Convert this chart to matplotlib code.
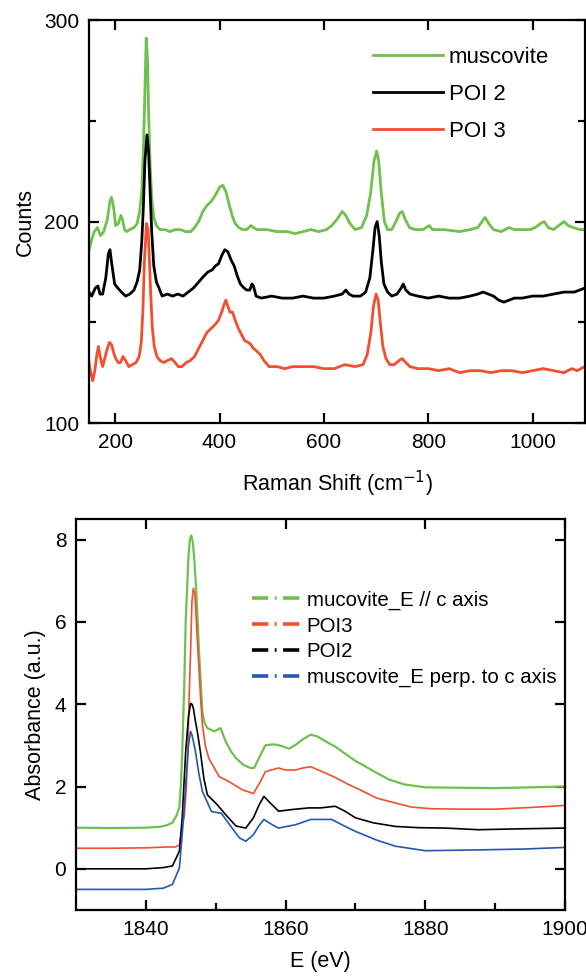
import matplotlib
matplotlib.use("Agg")
import matplotlib.pyplot as plt
from matplotlib.lines import Line2D

plt.rcParams['font.family'] = ['Liberation Sans', 'DejaVu Sans']

GREEN = '#70c04e'
RED = '#f24f2e'
BLUE = '#2257b2'

# ---- Raman spectra (top panel) ----
raman_x_musc = [150, 155, 160, 166, 172, 178, 185, 190, 193, 197, 201, 206, 211, 214, 218, 222, 228, 236, 242, 247,
                251, 254, 257, 259.5, 262, 264, 267, 270, 274, 279, 286, 295, 305, 315, 325, 335, 345, 352, 360, 368,
                376, 384, 392, 400, 406, 412, 418, 424, 430, 437, 444, 452, 460, 465, 472, 490, 510, 530, 545, 560,
                575, 590, 605, 615, 625, 635, 642, 650, 660, 672, 682, 690, 696, 701, 705, 710, 716, 722, 730, 738,
                745, 750, 756, 764, 775, 790, 802, 808, 830, 860, 880, 895, 903, 909, 916, 925, 940, 955, 965, 980,
                995, 1005, 1015, 1022, 1030, 1040, 1050, 1060, 1068, 1078, 1090, 1100]
raman_y_musc = [186, 191, 195, 197, 193, 195, 201, 210, 212, 207, 198, 199, 203, 201, 196, 195, 196, 197, 199, 205,
                215, 235, 265, 291, 280, 255, 228, 212, 202, 198, 196, 196, 195, 196, 196, 195, 195, 197, 200, 205,
                208, 210, 213, 217, 218, 215, 209, 203, 199, 197, 196, 196, 198, 197, 196, 196, 195, 195, 194, 195,
                196, 195, 196, 198, 201, 205, 203, 199, 196, 197, 203, 215, 230, 235, 230, 214, 200, 196, 196, 200,
                204, 205, 201, 197, 196, 196, 198, 196, 196, 195, 196, 197, 200, 202, 199, 196, 195, 197, 196, 196,
                196, 197, 199, 200, 197, 196, 198, 200, 198, 197, 196, 196]

raman_x_poi2 = [150, 155, 162, 167, 171, 176, 182, 187, 190, 194, 199, 205, 212, 220, 228, 236, 242, 247, 251, 254,
                257, 261, 264, 267, 270, 274, 279, 284, 290, 300, 310, 320, 330, 340, 350, 360, 370, 378, 386, 392,
                398, 404, 410, 416, 422, 428, 434, 440, 447, 452, 458, 462, 465, 470, 480, 500, 520, 540, 560, 580,
                600, 620, 635, 642, 648, 656, 670, 680, 688, 694, 698, 702, 706, 710, 715, 722, 730, 740, 748, 752,
                757, 765, 780, 800, 820, 840, 860, 880, 895, 905, 915, 925, 935, 945, 955, 965, 980, 1000, 1020, 1040,
                1060, 1080, 1100]
raman_y_poi2 = [165, 163, 167, 168, 164, 164, 172, 184, 186, 178, 169, 167, 165, 163, 164, 166, 170, 176, 190, 207,
                230, 243, 235, 215, 195, 178, 170, 167, 163, 164, 163, 164, 163, 165, 167, 170, 173, 175, 176, 178,
                179, 183, 186, 185, 181, 178, 173, 169, 167, 166, 166, 169, 168, 163, 162, 163, 162, 162, 163, 162,
                162, 163, 164, 166, 164, 163, 163, 165, 172, 186, 197, 200, 193, 180, 169, 165, 163, 164, 167, 169,
                166, 164, 163, 162, 163, 162, 162, 163, 164, 165, 164, 163, 161, 160, 161, 162, 162, 163, 163, 164,
                165, 165, 167]

raman_x_poi3 = [150, 153, 157, 161, 165, 168, 172, 176, 180, 184, 189, 193, 197, 201, 206, 210, 215, 220, 226, 233,
                240, 246, 250, 253, 256, 260, 263, 265, 268, 271, 275, 280, 286, 293, 300, 308, 315, 321, 328, 336,
                344, 352, 360, 368, 376, 384, 392, 398, 404, 409, 412, 416, 420, 425, 430, 436, 442, 448, 455, 460,
                465, 470, 478, 485, 495, 510, 525, 540, 560, 580, 600, 620, 640, 660, 675, 683, 690, 695, 700, 704,
                708, 713, 719, 726, 735, 744, 750, 757, 765, 780, 800, 820, 840, 860, 880, 900, 920, 940, 960, 980,
                1000, 1020, 1040, 1060, 1075, 1085, 1100]
raman_y_poi3 = [130, 125, 121, 126, 134, 138, 132, 128, 132, 136, 140, 139, 135, 132, 130, 130, 133, 131, 128, 129,
                130, 133, 140, 155, 180, 199, 196, 185, 165, 148, 138, 133, 131, 130, 131, 132, 130, 128, 128, 130,
                131, 133, 137, 141, 145, 147, 149, 151, 155, 159, 161, 158, 155, 155, 151, 147, 144, 141, 140, 139,
                137, 136, 134, 131, 128, 128, 127, 128, 128, 128, 127, 127, 129, 128, 129, 134, 145, 158, 164, 161,
                150, 138, 132, 129, 129, 131, 132, 130, 128, 127, 127, 126, 127, 125, 126, 126, 125, 126, 126, 125,
                126, 127, 126, 125, 127, 126, 128]

# ---- XANES spectra (bottom panel) ----
xas_x_musc_par = [1830, 1835, 1840, 1842, 1843, 1843.8, 1844.4, 1844.8, 1845.0, 1845.2, 1845.5, 1845.7, 1846.1,
                  1846.3, 1846.5, 1846.7, 1846.9, 1847.2, 1847.4, 1847.6, 1847.9, 1848.1, 1848.4, 1848.8, 1849.8,
                  1850.7, 1851.4, 1852.2, 1852.9, 1854, 1855, 1855.5, 1856.2, 1857.1, 1858, 1858.6, 1859.5, 1860.5,
                  1861.5, 1862.4, 1863.6, 1864.5, 1866.2, 1867.1, 1868.5, 1870, 1871, 1872.5, 1874.8, 1877, 1880,
                  1885, 1890, 1895, 1900]
xas_y_musc_par = [1.0, 0.99, 1.0, 1.02, 1.06, 1.12, 1.3, 1.5, 2.0, 2.8, 4.5, 6.0, 7.6,
                  8.0, 8.1, 7.95, 7.6, 6.8, 6.1, 5.3, 4.4, 3.8, 3.55, 3.42, 3.34,
                  3.42, 3.1, 2.85, 2.69, 2.52, 2.45, 2.45, 2.69, 3.0, 3.02, 3.02, 2.98, 2.92,
                  3.02, 3.14, 3.26, 3.22, 3.05, 2.97, 2.8, 2.62, 2.53, 2.38, 2.17, 2.05, 1.98,
                  1.97, 1.96, 1.98, 2.0]

xas_x_poi3 = [1830, 1835, 1840, 1843, 1844.2, 1844.8, 1845.5, 1845.8, 1846, 1846.2, 1846.4, 1846.6, 1846.8, 1847.0,
              1847.1, 1847.35, 1847.6, 1847.85, 1848.1, 1848.5, 1849, 1850.5, 1851.9, 1853.8, 1855.4, 1856.4,
              1857.1, 1859, 1860, 1861.4, 1862.5, 1863.6, 1865, 1867.1, 1869, 1870.9, 1873, 1875.7, 1878,
              1880.9, 1885, 1890, 1895, 1900]
xas_y_poi3 = [0.5, 0.5, 0.51, 0.53, 0.53, 0.58, 1.29, 2.0, 2.85, 4.2, 5.28, 6.5, 6.82, 6.7,
              6.41, 5.6, 4.87, 4.1, 3.5, 3.0, 2.69, 2.24, 2.12, 1.92, 1.83, 2.12,
              2.36, 2.45, 2.4, 2.4, 2.45, 2.48, 2.38, 2.22, 2.05, 1.9, 1.72, 1.6, 1.5,
              1.46, 1.45, 1.45, 1.49, 1.54]

xas_x_poi2 = [1830, 1835, 1840, 1842.5, 1843.8, 1844.8, 1845.2, 1845.7, 1846.1, 1846.4, 1846.6, 1846.8, 1847.1,
              1847.4, 1847.8, 1848.3, 1848.8, 1849.5, 1850.2, 1851.4, 1852.9, 1854.3, 1855.4, 1856.2, 1856.9,
              1857.8, 1859, 1860.9, 1863.3, 1865, 1867.1, 1868.5, 1870, 1872.5, 1875.7, 1879, 1882.9, 1887.6,
              1893, 1900]
xas_y_poi2 = [0.0, 0.0, 0.0, 0.03, 0.07, 0.43, 1.24, 2.85, 3.7, 4.02, 4.0, 3.9, 3.58,
              3.3, 2.85, 2.2, 1.8, 1.68, 1.56, 1.32, 1.04, 0.99, 1.24, 1.55, 1.76,
              1.6, 1.4, 1.44, 1.48, 1.48, 1.52, 1.4, 1.24, 1.12, 1.03, 1.0, 0.99, 0.95,
              0.97, 0.99]

xas_x_musc_perp = [1830, 1835, 1840, 1842.5, 1843.8, 1844.8, 1845.2, 1845.7, 1846.1, 1846.4, 1846.6, 1846.8, 1847.1,
                   1847.6, 1848.1, 1849.4, 1850.8, 1852, 1853.4, 1854.3, 1855.4, 1856.2, 1856.9, 1858.1, 1859,
                   1861.4, 1863.6, 1866.6, 1868.3, 1870, 1873, 1875.7, 1880, 1887.6, 1894, 1900]
xas_y_musc_perp = [-0.5, -0.5, -0.5, -0.47, -0.38, 0.02, 0.83, 2.04, 3.0, 3.34, 3.25, 3.1, 2.85,
                   2.3, 1.88, 1.39, 1.35, 1.07, 0.75, 0.67, 0.83, 1.05, 1.2, 1.07, 0.99,
                   1.07, 1.2, 1.2, 1.05, 0.91, 0.7, 0.55, 0.44, 0.46, 0.48, 0.52]

fig = plt.figure(figsize=(5.86, 9.77), dpi=100)

# top panel
ax1 = fig.add_axes([0.152, 0.567, 0.846, 0.4125])
ax1.plot(raman_x_musc, raman_y_musc, color=GREEN, lw=2.0, label='muscovite')
ax1.plot(raman_x_poi2, raman_y_poi2, color='black', lw=2.0, label='POI 2')
ax1.plot(raman_x_poi3, raman_y_poi3, color=RED, lw=2.0, label='POI 3')
ax1.set_xlim(150, 1100)
ax1.set_ylim(100, 300)
ax1.set_xticks([200, 400, 600, 800, 1000])
ax1.set_yticks([100, 200, 300])
ax1.set_yticks([150, 250], minor=True)
ax1.set_xlabel('Raman Shift (cm$^{-1}$)', fontsize=15.5, labelpad=12)
ax1.set_ylabel('Counts', fontsize=15.5, labelpad=6)
ax1.legend(loc='upper left', bbox_to_anchor=(0.551, 0.96), frameon=False, fontsize=16,
           handlelength=3.15, handletextpad=0.25, labelspacing=0.72, borderpad=0)

# bottom panel
ax2 = fig.add_axes([0.1297, 0.0686, 0.8345, 0.4002])
ax2.plot(xas_x_musc_par, xas_y_musc_par, color=GREEN, lw=1.6)
ax2.plot(xas_x_poi3, xas_y_poi3, color=RED, lw=1.2)
ax2.plot(xas_x_poi2, xas_y_poi2, color='black', lw=1.2)
ax2.plot(xas_x_musc_perp, xas_y_musc_perp, color=BLUE, lw=1.2)
ax2.set_xlim(1830, 1900)
ax2.set_ylim(-1, 8.5)
ax2.set_xticks([1840, 1860, 1880, 1900])
ax2.set_xticks([1850, 1870, 1890], minor=True)
ax2.set_yticks([0, 2, 4, 6, 8])
ax2.set_xlabel('E (eV)', fontsize=15.5, labelpad=9)
ax2.set_ylabel('Absorbance (a.u.)', fontsize=15.5, labelpad=6)

dash = (0, (4.5, 1.8, 0.5, 1.8))
handles = [Line2D([], [], color=GREEN, lw=2.6, linestyle=dash),
           Line2D([], [], color=RED, lw=2.6, linestyle=dash),
           Line2D([], [], color='black', lw=2.6, linestyle=dash),
           Line2D([], [], color=BLUE, lw=2.6, linestyle=dash)]
labels = ['mucovite_E // c axis', 'POI3', 'POI2', 'muscovite_E perp. to c axis']
ax2.legend(handles, labels, loc='upper left', bbox_to_anchor=(0.34, 0.843), frameon=False, fontsize=14.7,
           handlelength=2.35, handletextpad=0.3, labelspacing=0.33, borderpad=0)

for ax in (ax1, ax2):
    for s in ax.spines.values():
        s.set_linewidth(1.6)
    ax.tick_params(which='both', direction='in', top=True, right=True, labelsize=15, width=1.6)
    ax.tick_params(which='major', length=7, pad=7)
    ax.tick_params(which='minor', length=5)
ax2.tick_params(which='minor', top=False)

fig.savefig('out.png', dpi=100)
